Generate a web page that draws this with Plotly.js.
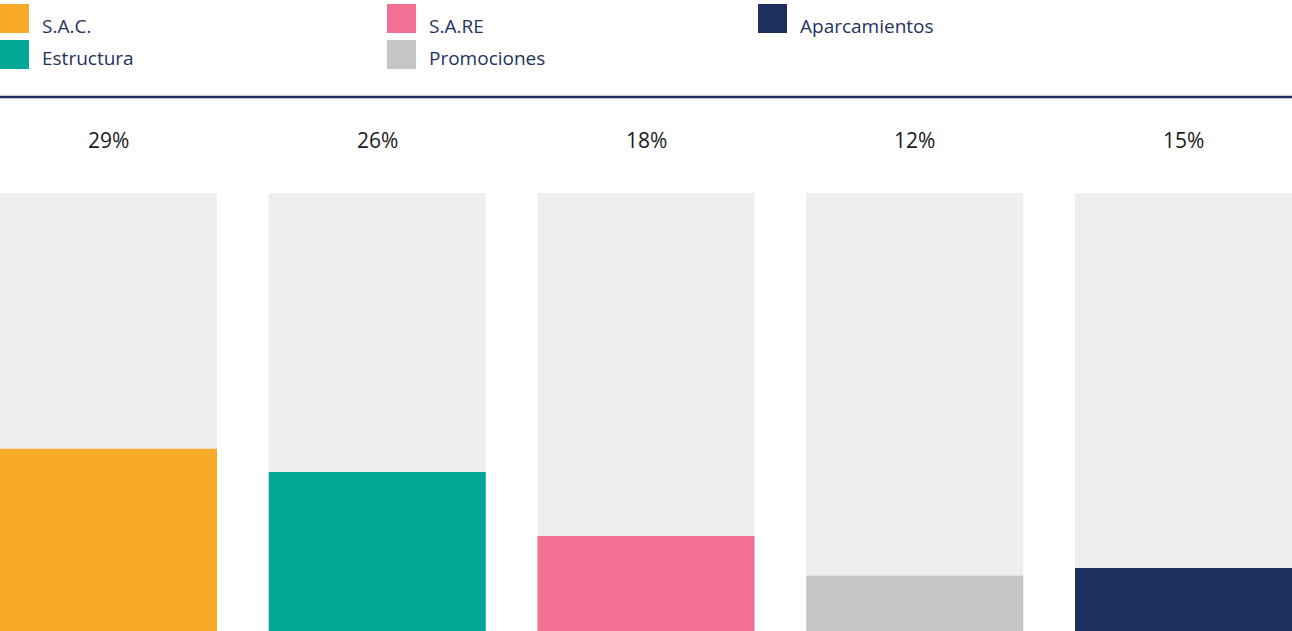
<!DOCTYPE html>
<html>
<head>
<meta charset="utf-8">
<script src="https://cdn.plot.ly/plotly-3.0.1.min.js"></script>
<style>
  html, body { margin: 0; padding: 0; background: #fff; }
  #chart { width: 1292px; height: 631px; }
</style>
</head>
<body>
<div id="chart"></div>
<script>
// categorias y valores
var categorias = ['S.A.C.', 'Estructura', 'S.A.RE', 'Promociones', 'Aparcamientos'];
var porcentajes = ['29%', '26%', '18%', '12%', '15%'];
var alturas = [41.6, 36.3, 21.7, 12.6, 14.4];   // altura de la barra de color (fondo = 100)
var fondo = [100, 100, 100, 100, 100];
var colores = ['#F8AA28', '#00A895', '#F17093', '#C5C7C4', '#1E2F5F'];

var W = 1292, H = 631, TOP = 193, BOTTOM = 0;
var plotH = H - TOP - BOTTOM;
// pixel -> coordenada paper
function py(y) { return (H - BOTTOM - y) / plotH; }
function px(x) { return x / W; }

var gap = 0.1926;

var trace1 = {
  x: categorias,
  y: fondo,
  type: 'bar',
  marker: {color: '#EFEEEC'},
  hoverinfo: 'skip',
  showlegend: false
};
var trace2 = {
  x: categorias,
  y: alturas,
  type: 'bar',
  marker: {color: colores},
  hoverinfo: 'skip',
  showlegend: false
};

// etiquetas de porcentaje encima de cada barra
var anotaciones = categorias.map(function(c, i) {
  return {
    x: c, xref: 'x',
    y: py(140), yref: 'paper',
    text: porcentajes[i],
    showarrow: false,
    xanchor: 'center', yanchor: 'middle',
    font: {size: 21, color: '#1a1a1a', family: 'Open Sans'}
  };
});

// leyenda manual: 3 columnas, 2 filas
var colX = [0, 387, 758];
var filaY = [4, 40];
var textoY = [26, 58];
var formas = [];
categorias.forEach(function(c, i) {
  var cx = colX[Math.floor(i / 2)];
  var ry = filaY[i % 2];
  formas.push({
    type: 'rect', xref: 'paper', yref: 'paper',
    x0: px(cx), x1: px(cx + 29), y0: py(ry), y1: py(ry + 29),
    fillcolor: colores[i], line: {width: 0}
  });
  anotaciones.push({
    x: px(cx + 40), xref: 'paper',
    y: py(textoY[i % 2]), yref: 'paper',
    text: c, showarrow: false,
    xanchor: 'left', yanchor: 'middle',
    font: {size: 19, color: '#24325F', family: 'Open Sans'}
  });
});

// linea separadora azul
formas.push({
  type: 'line', xref: 'paper', yref: 'paper',
  x0: 0, x1: 1, y0: py(97), y1: py(97),
  line: {color: '#1E2F5F', width: 2.5}
});

var layout = {
  width: W,
  height: H,
  margin: {t: TOP, b: BOTTOM, l: 0, r: 0, pad: 0},
  paper_bgcolor: '#ffffff',
  plot_bgcolor: '#ffffff',
  barmode: 'overlay',
  bargap: gap,
  showlegend: false,
  xaxis: {
    range: [-(1 - gap) / 2, 4 + (1 - gap) / 2],
    showgrid: false, zeroline: false, showticklabels: false, showline: false,
    fixedrange: true
  },
  yaxis: {
    range: [0, 100],
    showgrid: false, zeroline: false, showticklabels: false, showline: false,
    fixedrange: true
  },
  annotations: anotaciones,
  shapes: formas,
  font: {family: 'Open Sans'}
};

Plotly.newPlot('chart', [trace1, trace2], layout, {displayModeBar: false, staticPlot: true});
</script>
</body>
</html>
